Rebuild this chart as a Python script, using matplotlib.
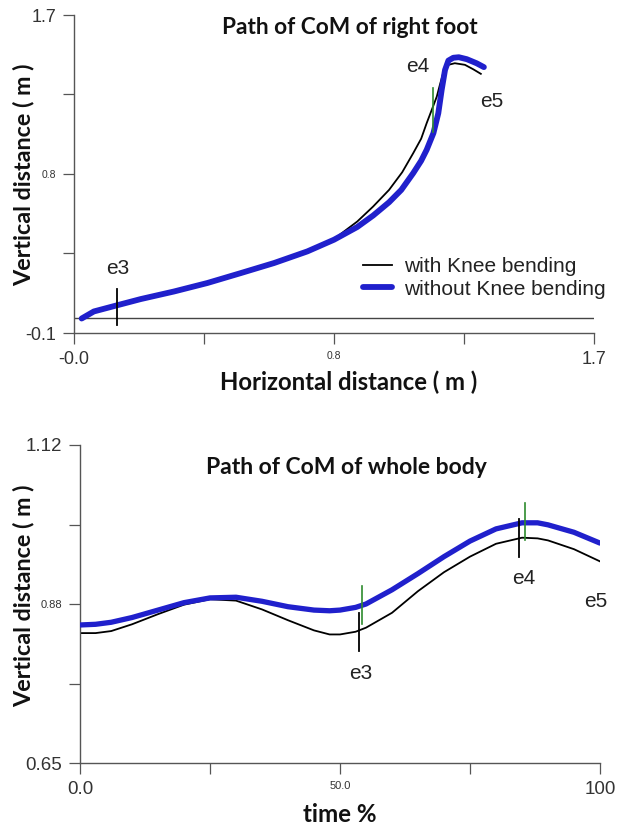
import matplotlib
matplotlib.use("Agg")
import matplotlib.pyplot as plt

# ---------------- data: right foot CoM path (top) ----------------
foot_with_x = [0.025, 0.065, 0.139, 0.218, 0.327, 0.436, 0.545, 0.654, 0.763, 0.850,
               0.926, 0.978, 1.030, 1.073, 1.109, 1.135, 1.153, 1.170, 1.186, 1.197,
               1.207, 1.224, 1.245, 1.278, 1.305, 1.330]
foot_with_y = [-0.018, 0.022, 0.056, 0.092, 0.135, 0.183, 0.239, 0.296, 0.362, 0.432,
               0.531, 0.616, 0.710, 0.810, 0.918, 1.000, 1.088, 1.165, 1.238, 1.310,
               1.371, 1.418, 1.427, 1.418, 1.393, 1.367]
foot_without_x = [0.025, 0.065, 0.139, 0.218, 0.327, 0.436, 0.545, 0.654, 0.763, 0.850,
                  0.926, 0.978, 1.030, 1.070, 1.109, 1.135, 1.153, 1.175, 1.191, 1.202,
                  1.213, 1.224, 1.240, 1.258, 1.284, 1.316, 1.340]
foot_without_y = [-0.018, 0.022, 0.056, 0.092, 0.135, 0.183, 0.239, 0.296, 0.362, 0.428,
                  0.500, 0.565, 0.640, 0.710, 0.805, 0.875, 0.937, 1.031, 1.144, 1.276,
                  1.389, 1.442, 1.458, 1.461, 1.450, 1.427, 1.405]
foot_ground = -0.015
foot_events = ["e3", "e4", "e5"]
foot_event_pos = [(0.144, 0.264), (1.125, 1.408), (1.366, 1.208)]
foot_e3_mark = (0.139, -0.055, 0.150)
foot_e4_mark = (1.173, 1.040, 1.286)

# ---------------- data: whole body CoM path (bottom) ----------------
t_pct = [0, 3, 6, 10, 15, 20, 25, 30, 35, 40, 45, 48, 50, 53, 55, 60, 65, 70, 75, 80,
         85, 88, 90, 95, 100]
body_with = [0.842, 0.842, 0.845, 0.855, 0.870, 0.884, 0.892, 0.890, 0.877, 0.861,
             0.846, 0.840, 0.840, 0.844, 0.850, 0.872, 0.904, 0.932, 0.955, 0.974,
             0.983, 0.982, 0.979, 0.966, 0.948]
body_without = [0.854, 0.855, 0.858, 0.865, 0.876, 0.887, 0.894, 0.895, 0.889, 0.881,
                0.876, 0.875, 0.876, 0.880, 0.885, 0.906, 0.930, 0.955, 0.978, 0.996,
                1.005, 1.005, 1.002, 0.991, 0.975]
body_events = ["e3", "e4", "e5"]
body_event_pos = [(54.0, 0.783), (85.4, 0.922), (99.2, 0.889)]
body_black_marks = [(53.6, 0.815, 0.871), (84.5, 0.955, 1.010)]
body_green_marks = [(54.3, 0.856, 0.911), (85.5, 0.979, 1.034)]

legend_labels = ["with Knee bending", "without Knee bending"]

BLUE = "#2020cc"
GREEN = "#2e8b2e"
AXC = "#555555"
TXT = "#333333"
TICKFONT = "Liberation Sans"
BOLDFONT = "Lato"

fig = plt.figure(figsize=(6.25, 8.26), dpi=100)
W, H = 625, 826


def style_axes(ax):
    for s in ["top", "right"]:
        ax.spines[s].set_visible(False)
    for s in ["left", "bottom"]:
        ax.spines[s].set_color(AXC)
        ax.spines[s].set_linewidth(1.0)
    ax.tick_params(axis="both", direction="out", length=8, width=0.9, color=AXC,
                   labelcolor=TXT, pad=5)
    for lab in ax.get_xticklabels() + ax.get_yticklabels():
        lab.set_family(TICKFONT)


# ---------------- top axes ----------------
ax1 = fig.add_axes([74 / W, 1 - 333 / H, 520 / W, 318 / H])
ax1.set_xlim(0, 1.7)
ax1.set_ylim(-0.1, 1.7)
ax1.plot(foot_with_x, foot_with_y, color="black", lw=1.3, zorder=2,
         solid_joinstyle="round", label=legend_labels[0])
ax1.plot(foot_without_x, foot_without_y, color=BLUE, lw=4.2, zorder=3,
         solid_joinstyle="round", solid_capstyle="round", label=legend_labels[1])
ax1.axhline(foot_ground, color="#444444", lw=1.0, zorder=1)
ax1.plot([foot_e3_mark[0]] * 2, foot_e3_mark[1:], color="black", lw=1.3, zorder=4)
ax1.plot([foot_e4_mark[0]] * 2, foot_e4_mark[1:], color=GREEN, lw=1.2, zorder=4)
for name, (ex, ey) in zip(foot_events, foot_event_pos):
    ax1.text(ex, ey, name, fontsize=15, family=TICKFONT, color="#222222",
             ha="center", va="center")
ax1.set_xticks([0, 0.425, 0.85, 1.275, 1.7])
ax1.set_xticklabels(["-0.0", "", "0.8", "", "1.7"])
ax1.set_yticks([-0.1, 0.35, 0.8, 1.25, 1.7])
ax1.set_yticklabels(["-0.1", "", "0.8", "", "1.7"])
style_axes(ax1)
for lab in ax1.get_xticklabels() + ax1.get_yticklabels():
    lab.set_fontsize(7.5 if lab.get_text() == "0.8" else 13)
leg = ax1.legend(loc="center left", bbox_to_anchor=(0.556, 0.173), frameon=False,
                 prop={"family": TICKFONT, "size": 15}, handlelength=1.4,
                 handletextpad=0.55, labelspacing=0.15, borderpad=0, borderaxespad=0)
for t in leg.get_texts():
    t.set_color("#222222")

fig.text(350 / W, 1 - 27 / H, "Path of CoM of right foot", fontsize=16.3,
         family=BOLDFONT, weight="bold", ha="center", va="center", color="#111111")
fig.text(349 / W, 1 - 382 / H, "Horizontal distance ( m )", fontsize=17.2,
         family=BOLDFONT, weight="bold", ha="center", va="center", color="#111111")
fig.text(24 / W, 1 - 175 / H, "Vertical distance ( m )", fontsize=16.8,
         family=BOLDFONT, weight="bold", ha="center", va="center", rotation=90,
         color="#111111")

# ---------------- bottom axes ----------------
ax2 = fig.add_axes([80 / W, 1 - 763 / H, 520 / W, 318 / H])
ax2.set_xlim(0, 100)
ax2.set_ylim(0.65, 1.12)
ax2.plot(t_pct, body_with, color="black", lw=1.3, zorder=2,
         solid_joinstyle="round")
ax2.plot(t_pct, body_without, color=BLUE, lw=3.8, zorder=3,
         solid_joinstyle="round", solid_capstyle="round")
for (mx, y0, y1) in body_black_marks:
    ax2.plot([mx, mx], [y0, y1], color="black", lw=1.3, zorder=4)
for (mx, y0, y1) in body_green_marks:
    ax2.plot([mx, mx], [y0, y1], color=GREEN, lw=1.2, zorder=4)
for name, (ex, ey) in zip(body_events, body_event_pos):
    ax2.text(ex, ey, name, fontsize=15, family=TICKFONT, color="#222222",
             ha="center", va="center")
ax2.set_xticks([0, 25, 50, 75, 100])
ax2.set_xticklabels(["0.0", "", "50.0", "", "100"])
ax2.set_yticks([0.65, 0.7675, 0.885, 1.0025, 1.12])
ax2.set_yticklabels(["0.65", "", "0.88", "", "1.12"])
style_axes(ax2)
for lab in ax2.get_xticklabels() + ax2.get_yticklabels():
    lab.set_fontsize(8 if lab.get_text() in ("0.88", "50.0") else 13.5)

fig.text(346 / W, 1 - 468 / H, "Path of CoM of whole body", fontsize=16.5,
         family=BOLDFONT, weight="bold", ha="center", va="center", color="#111111")
fig.text(340 / W, 1 - 815 / H, "time %", fontsize=17.4,
         family=BOLDFONT, weight="bold", ha="center", va="center", color="#111111")
fig.text(24 / W, 1 - 596 / H, "Vertical distance ( m )", fontsize=16.8,
         family=BOLDFONT, weight="bold", ha="center", va="center", rotation=90,
         color="#111111")

fig.savefig("out.png", dpi=100)
